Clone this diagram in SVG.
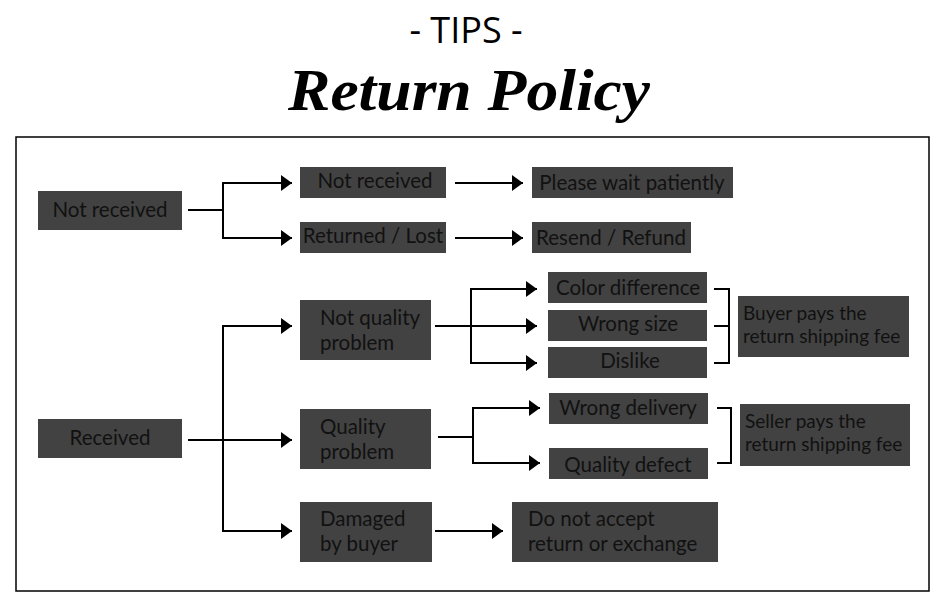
<svg xmlns="http://www.w3.org/2000/svg" width="950" height="607" viewBox="0 0 950 607">
<style>
.box{fill:#424242}
.t{font-family:Lato,"Open Sans",sans-serif;font-size:20.5px;fill:#111}
.s{font-family:Lato,"Open Sans",sans-serif;font-size:19px;fill:#111}
.c{text-anchor:middle}
.ln{fill:none;stroke:#000;stroke-width:2}
</style>
<defs>
<marker id="ah" markerUnits="userSpaceOnUse" markerWidth="12" markerHeight="18" refX="11" refY="8" orient="auto">
<path d="M0,0 L11,8 L0,16 z" fill="#000"/>
</marker>
</defs>
<rect width="950" height="607" fill="#fff"/>
<text x="466" y="43" text-anchor="middle" font-family="'Open Sans','Noto Sans',sans-serif" font-size="36" fill="#000">- TIPS -</text>
<text x="288" y="110" textLength="362" lengthAdjust="spacingAndGlyphs" font-family="'Liberation Serif',serif" font-size="60" font-weight="bold" font-style="italic" fill="#000">Return Policy</text>
<rect x="16" y="137" width="913" height="454" fill="none" stroke="#000" stroke-width="1.5"/>

<g id="connectors">
<path class="ln" d="M188,210 H223"/>
<path class="ln" d="M223,210 V183 H292" marker-end="url(#ah)"/>
<path class="ln" d="M223,210 V238 H292" marker-end="url(#ah)"/>
<path class="ln" d="M455,183 H523" marker-end="url(#ah)"/>
<path class="ln" d="M455,238 H523" marker-end="url(#ah)"/>
<path class="ln" d="M188,440 H292" marker-end="url(#ah)"/>
<path class="ln" d="M223,440 V326 H292" marker-end="url(#ah)"/>
<path class="ln" d="M223,440 V531 H292" marker-end="url(#ah)"/>
<path class="ln" d="M435,326 H537" marker-end="url(#ah)"/>
<path class="ln" d="M471,326 V289 H537" marker-end="url(#ah)"/>
<path class="ln" d="M471,326 V363 H537" marker-end="url(#ah)"/>
<path class="ln" d="M438,437 H473"/>
<path class="ln" d="M473,437 V408 H540" marker-end="url(#ah)"/>
<path class="ln" d="M473,437 V463 H540" marker-end="url(#ah)"/>
<path class="ln" d="M435,531 H503" marker-end="url(#ah)"/>
<path class="ln" d="M714,289 H729 V363 H714 M714,326 H729"/>
<path class="ln" d="M717,408 H731 V463 H717"/>
</g>

<g id="n-not-received"><rect class="box" x="38" y="191" width="144" height="39"/><text class="t c" x="110" y="217">Not received</text></g>
<g id="n-not-received-2"><rect class="box" x="300" y="167" width="146" height="31"/><text class="t c" x="375" y="188">Not received</text></g>
<g id="n-returned-lost"><rect class="box" x="300" y="222" width="146" height="31"/><text class="t c" x="373" y="243">Returned / Lost</text></g>
<g id="n-please-wait"><rect class="box" x="532" y="167" width="201" height="31"/><text class="t c" x="632" y="190">Please wait patiently</text></g>
<g id="n-resend-refund"><rect class="box" x="532" y="222" width="159" height="31"/><text class="t c" x="611" y="245">Resend / Refund</text></g>
<g id="n-not-quality"><rect class="box" x="300" y="300" width="131" height="60"/><text class="t" x="320" y="325">Not quality<tspan x="320" dy="24.6">problem</tspan></text></g>
<g id="n-color-diff"><rect class="box" x="548" y="272" width="159" height="31"/><text class="t c" x="628" y="295">Color difference</text></g>
<g id="n-wrong-size"><rect class="box" x="548" y="310" width="159" height="31"/><text class="t c" x="628" y="331">Wrong size</text></g>
<g id="n-dislike"><rect class="box" x="548" y="347" width="159" height="31"/><text class="t c" x="630" y="368">Dislike</text></g>
<g id="n-buyer-pays"><rect class="box" x="738" y="296" width="171" height="61"/><text class="s" x="743" y="320">Buyer pays the<tspan x="743" dy="23">return shipping fee</tspan></text></g>
<g id="n-received"><rect class="box" x="38" y="419" width="144" height="39"/><text class="t c" x="110" y="445">Received</text></g>
<g id="n-quality"><rect class="box" x="300" y="409" width="131" height="60"/><text class="t" x="320" y="434">Quality<tspan x="320" dy="24.6">problem</tspan></text></g>
<g id="n-wrong-delivery"><rect class="box" x="549" y="393" width="159" height="31"/><text class="t c" x="628" y="415">Wrong delivery</text></g>
<g id="n-quality-defect"><rect class="box" x="549" y="448" width="159" height="31"/><text class="t c" x="628" y="472">Quality defect</text></g>
<g id="n-seller-pays"><rect class="box" x="740" y="404" width="170" height="62"/><text class="s" x="745" y="428">Seller pays the<tspan x="745" dy="23">return shipping fee</tspan></text></g>
<g id="n-damaged"><rect class="box" x="300" y="502" width="132" height="60"/><text class="t" x="320" y="526">Damaged<tspan x="320" dy="24.6">by buyer</tspan></text></g>
<g id="n-do-not-accept"><rect class="box" x="512" y="502" width="206" height="60"/><text class="t" x="528" y="526">Do not accept<tspan x="528" dy="24.6">return or exchange</tspan></text></g>
</svg>
